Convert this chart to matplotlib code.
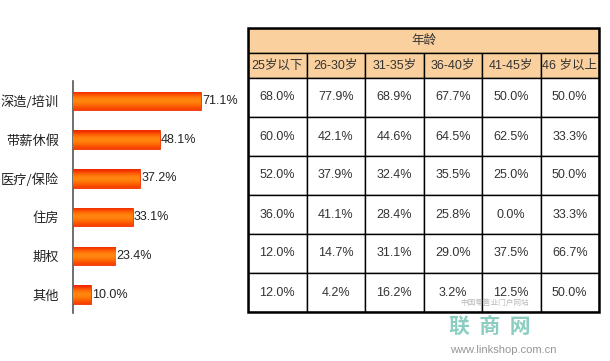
import matplotlib
matplotlib.use('Agg')
import matplotlib.pyplot as plt
import numpy as np
from matplotlib.patches import Rectangle

plt.rcParams['font.family'] = ['Liberation Sans', 'Noto Sans CJK SC', 'DejaVu Sans']

# ── data ─────────────────────────────────────────────────────────────────────
categories = ['深造/培训', '带薪休假', '医疗/保险', '住房', '期权', '其他']
overall = [71.1, 48.1, 37.2, 33.1, 23.4, 10.0]

age_title = '年龄'
age_groups = ['25岁以下', '26-30岁', '31-35岁', '36-40岁', '41-45岁', '46 岁以上']
by_age = [
    [68.0, 77.9, 68.9, 67.7, 50.0, 50.0],
    [60.0, 42.1, 44.6, 64.5, 62.5, 33.3],
    [52.0, 37.9, 32.4, 35.5, 25.0, 50.0],
    [36.0, 41.1, 28.4, 25.8, 0.0, 33.3],
    [12.0, 14.7, 31.1, 29.0, 37.5, 66.7],
    [12.0, 4.2, 16.2, 3.2, 12.5, 50.0],
]

W, H = 610, 361
fig = plt.figure(figsize=(W / 100, H / 100), dpi=100)
fig.patch.set_facecolor('white')


def px_axes(x0, y0, x1, y1):
    # pixel box (top-left origin) -> figure fraction axes
    return fig.add_axes([x0 / W, 1 - y1 / H, (x1 - x0) / W, (y1 - y0) / H])


# ── bar chart ────────────────────────────────────────────────────────────────
ax = px_axes(73, 81, 245, 313)
ypos = np.arange(len(categories))
bars = ax.barh(ypos, overall, height=0.48, color='#ff6000',
               edgecolor='#f03000', linewidth=0.6, zorder=2)

# vertical shading on each bar (red edges, lighter orange centre)
grad = np.array([0.0, 0.5, 0.85, 1.0, 0.85, 0.6, 0.25]).reshape(-1, 1)
cmap = matplotlib.colors.LinearSegmentedColormap.from_list(
    'bar', ['#f02800', '#ff5a00', '#ff8a10'])
for b in bars:
    x, y = b.get_x(), b.get_y()
    w, h = b.get_width(), b.get_height()
    im = ax.imshow(grad, cmap=cmap, aspect='auto', extent=(x, x + w, y + h, y),
                   zorder=3, interpolation='bicubic')
    im.set_clip_path(b)

for y, v in zip(ypos, overall):
    ax.text(v + 0.8, y, f'{v:.1f}%', va='center', ha='left',
            fontsize=9, color='#222222')

ax.set_xlim(0, 172 / 1.8)
ax.set_ylim(5.478, -0.517)
ax.set_yticks(ypos)
ax.set_yticklabels(categories, fontsize=9.5, color='#222222',
                   family=['Noto Sans CJK SC', 'DejaVu Sans'])
ax.tick_params(axis='y', length=0, pad=10)
ax.set_xticks([])
for s in ['top', 'right', 'bottom']:
    ax.spines[s].set_visible(False)
ax.spines['left'].set_color('#555555')
ax.spines['left'].set_linewidth(1.2)
ax.set_facecolor('none')

# ── table ────────────────────────────────────────────────────────────────────
tx = px_axes(248, 28, 599, 312)
n_rows = len(by_age)
n_cols = len(age_groups)
hh = 25 / 39.0  # header row height relative to data row
top = n_rows + 2 * hh
tx.set_xlim(0, n_cols)
tx.set_ylim(0, top)
tx.axis('off')

header_bg = '#fbd09f'
txt_color = '#333333'
cjk = ['Liberation Sans', 'Noto Sans CJK SC', 'DejaVu Sans']

# merged title row
tx.add_patch(Rectangle((0, n_rows + hh), n_cols, hh, facecolor=header_bg,
                       edgecolor='black', linewidth=1.0))
tx.text(n_cols / 2, n_rows + 1.5 * hh, age_title, ha='center', va='center',
        fontsize=9, color=txt_color, family=cjk)

for j, g in enumerate(age_groups):
    tx.add_patch(Rectangle((j, n_rows), 1, hh, facecolor=header_bg,
                           edgecolor='black', linewidth=1.0))
    tx.text(j + 0.5, n_rows + hh / 2, g, ha='center', va='center',
            fontsize=9, color=txt_color, family=cjk)

for i, row in enumerate(by_age):
    yb = n_rows - 1 - i
    for j, v in enumerate(row):
        tx.add_patch(Rectangle((j, yb), 1, 1, facecolor='white',
                               edgecolor='black', linewidth=1.0))
        tx.text(j + 0.5, yb + 0.5, f'{v:.1f}%', ha='center', va='center',
                fontsize=9, color=txt_color)

tx.add_patch(Rectangle((0, 0), n_cols, top, facecolor='none',
                       edgecolor='black', linewidth=1.8, clip_on=False))

# ── watermark ────────────────────────────────────────────────────────────────
fig.text(495 / W, 1 - 303 / H, '中国零售业门户网站', ha='center', va='center',
         fontsize=5.5, color='#aaaaaa', alpha=0.8,
         family=['Noto Sans CJK SC', 'DejaVu Sans'])
fig.text(490 / W, 1 - 326 / H, '联  商  网', ha='center', va='center',
         fontsize=15, color='#6fc1b3', alpha=0.8, fontweight='bold',
         family=['Noto Sans CJK SC', 'DejaVu Sans'])
fig.text(503 / W, 1 - 350 / H, 'www.linkshop.com.cn', ha='center', va='center',
         fontsize=8, color='#8a8a8a', alpha=0.9)

fig.savefig('out.png', dpi=100, facecolor='white')
plt.close(fig)
